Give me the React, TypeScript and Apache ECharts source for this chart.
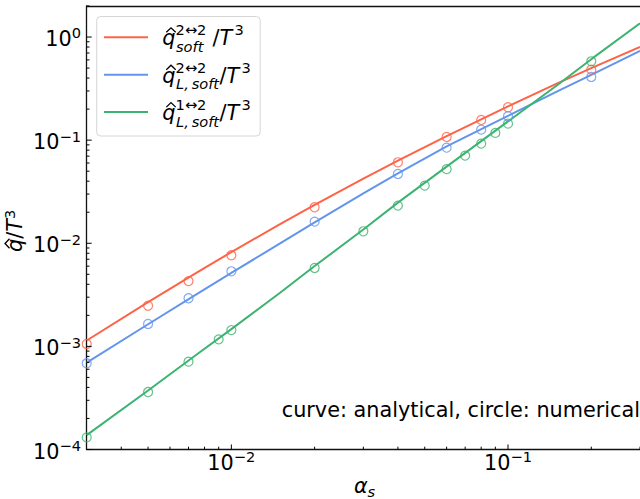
import React, { useEffect, useRef } from 'react';
import * as echarts from 'echarts';

// ---------- data ----------
const X_MIN = 0.003;
const X_MAX = 0.3;
const Y_MIN = 1e-4;
const Y_MAX = 2;

// analytical curves
const curveX = [0.003, 0.005, 0.0076, 0.01, 0.015, 0.02, 0.03, 0.04, 0.06, 0.1, 0.15, 0.2, 0.3];
const curveSoft = [0.00114, 0.002688, 0.00532, 0.00821, 0.01533, 0.02353, 0.04236, 0.0634, 0.1096, 0.2129, 0.3535, 0.4992, 0.802];
const curveLSoft = [0.000695, 0.001639, 0.003284, 0.005153, 0.00998, 0.01591, 0.03044, 0.04767, 0.08687, 0.1722, 0.2953, 0.4305, 0.735];
const curveL12 = [0.000138, 0.000373, 0.000857, 0.00147, 0.00331, 0.00601, 0.0136, 0.0248, 0.0554, 0.152, 0.339, 0.61, 1.36];

// numerical points
const numX22 = [0.003, 0.005, 0.007, 0.01, 0.02, 0.04, 0.06, 0.08, 0.1, 0.2];
const numSoft = [0.001055, 0.00248, 0.0043, 0.00765, 0.02234, 0.061, 0.1074, 0.157, 0.2085, 0.483];
const numLSoft = [0.000686, 0.00165, 0.00293, 0.00535, 0.0162, 0.047, 0.0845, 0.1264, 0.1706, 0.41];
const numX12 = [0.003, 0.005, 0.007, 0.009, 0.01, 0.02, 0.03, 0.04, 0.05, 0.06, 0.07, 0.08, 0.09, 0.1, 0.2];
const numL12 = [0.000131, 0.000361, 0.000711, 0.00117, 0.00144, 0.00576, 0.01307, 0.0232, 0.0362, 0.0523, 0.0708, 0.0925, 0.1175, 0.1446, 0.582];

// ticks
const xMajorTicks = [0.01, 0.1];
const xMajorExps = [-2, -1];
const xMinorTicks = [0.004, 0.005, 0.006, 0.007, 0.008, 0.009, 0.02, 0.03, 0.04, 0.05, 0.06, 0.07, 0.08, 0.09, 0.2, 0.3];
const yMajorTicks = [1e-4, 1e-3, 1e-2, 1e-1, 1];
const yMajorExps = [-4, -3, -2, -1, 0];
const yMinorTicks = [
  2e-4, 3e-4, 4e-4, 5e-4, 6e-4, 7e-4, 8e-4, 9e-4,
  2e-3, 3e-3, 4e-3, 5e-3, 6e-3, 7e-3, 8e-3, 9e-3,
  2e-2, 3e-2, 4e-2, 5e-2, 6e-2, 7e-2, 8e-2, 9e-2,
  2e-1, 3e-1, 4e-1, 5e-1, 6e-1, 7e-1, 8e-1, 9e-1, 2,
];

const legendSups = ['2\u21942', '2\u21942', '1\u21942'];
const legendSubs = ['soft', 'L,\u2009soft', 'L,\u2009soft'];
const annotation = 'curve: analytical, circle: numerical';

// ---------- styles ----------
const RED = '#ff6347';
const BLUE = '#6495ed';
const GREEN = '#3cb371';
const FONT = 'DejaVu Sans';
const FS = 20.8;
const SS = 14.6;
const MID = 0.346; // central-baseline offset (em) for DejaVu Sans

let measureCtx: CanvasRenderingContext2D | null = null;
function measure(text: string, size: number, italic = false): number {
  if (!measureCtx) measureCtx = document.createElement('canvas').getContext('2d');
  if (!measureCtx) return text.length * size * 0.6;
  measureCtx.font = `${italic ? 'italic ' : ''}${size}px "${FONT}"`;
  return measureCtx.measureText(text).width;
}

function expText(e: number): string {
  return e < 0 ? '\u2212' + String(-e) : String(e);
}

function txt(x: number, baseline: number, text: string, size: number, opts: any = {}) {
  return {
    type: 'text',
    x,
    y: baseline - MID * size,
    silent: true,
    style: {
      text,
      fontSize: size,
      fontFamily: FONT,
      fontStyle: opts.italic ? 'italic' : 'normal',
      fill: opts.fill || '#000',
      align: opts.align || 'left',
      verticalAlign: 'middle',
      lineHeight: opts.lineHeight || undefined,
    },
  };
}

export default function App() {
  const ref = useRef<HTMLDivElement>(null);

  useEffect(() => {
    if (!ref.current) return;
    const chart = echarts.init(ref.current, null, { renderer: 'svg' });

    const axisCommon = {
      type: 'log',
      logBase: 10,
      axisTick: { show: false },
      axisLabel: { show: false },
      splitLine: { show: false },
      minorTick: { show: false },
      minorSplitLine: { show: false },
      axisLine: { show: true, onZero: false, lineStyle: { color: '#111', width: 1.3 } },
    };

    const legendEls: any[] = [];
    legendEls.push({
      type: 'rect',
      z: 10,
      shape: { x: 96.7, y: 16.5, width: 163.5, height: 119.5, r: 4 },
      style: { fill: 'rgba(255,255,255,0.85)', stroke: '#d6d6d6', lineWidth: 1 },
    });
    const colors = [RED, BLUE, GREEN];
    const slashXs = [212.5, 219.5, 219.5];
    for (let i = 0; i < 3; i++) {
      const L = 37.3 + i * 37.4;
      legendEls.push({
        type: 'line', z: 11,
        shape: { x1: 104, y1: L, x2: 148, y2: L },
        style: { stroke: colors[i], lineWidth: 2 },
      });
      const els = [
        txt(162.3, L + 8, 'q', FS, { italic: true }),
        txt(175.6, L - 2.5, legendSups[i], SS, { lineHeight: 15 }),
        txt(176, L + 14, legendSubs[i], SS, { italic: true, lineHeight: 15 }),
        txt(slashXs[i], L + 8, '/', FS),
        txt(slashXs[i] + 7, L + 8, 'T', FS, { italic: true }),
        txt(slashXs[i] + 22, L - 2.5, '3', SS),
      ];
      els.forEach((e: any) => { e.z = 11; legendEls.push(e); });
      legendEls.push({
        type: 'polyline', z: 11,
        shape: { points: [[166.3, L - 5], [171, L - 9.5], [175.7, L - 5]] },
        style: { stroke: '#000', lineWidth: 1.3, fill: null },
      });
    }

    const yLabelGroup = {
      type: 'group',
      x: 22.5,
      y: 252,
      rotation: Math.PI / 2,
      children: [
        txt(0, 0, 'q', FS, { italic: true }),
        {
          type: 'polyline',
          shape: { points: [[3.8, -13], [8.5, -17.5], [13.2, -13]] },
          style: { stroke: '#000', lineWidth: 1.3, fill: null },
        },
        txt(13.2, 0, '/', FS),
        txt(20.2, 0, 'T', FS, { italic: true }),
        txt(33, -8.3, '3', SS),
      ],
    };

    const option: any = {
      animation: false,
      backgroundColor: '#fff',
      grid: { left: 86.7, top: 6, width: 558.4, height: 443.5, containLabel: false },
      xAxis: [
        { ...axisCommon, min: X_MIN, max: X_MAX, position: 'bottom' },
        { ...axisCommon, min: X_MIN, max: X_MAX, position: 'top' },
      ],
      yAxis: [{ ...axisCommon, min: Y_MIN, max: Y_MAX, position: 'left' }],
      series: [
        {
          type: 'line', name: 'soft', data: curveX.map((x, i) => [x, curveSoft[i]]),
          showSymbol: false, symbol: 'none', lineStyle: { color: RED, width: 2 }, z: 3,
        },
        {
          type: 'line', name: 'Lsoft', data: curveX.map((x, i) => [x, curveLSoft[i]]),
          showSymbol: false, symbol: 'none', lineStyle: { color: BLUE, width: 2 }, z: 3,
        },
        {
          type: 'line', name: 'L12', data: curveX.map((x, i) => [x, curveL12[i]]),
          showSymbol: false, symbol: 'none', lineStyle: { color: GREEN, width: 2 }, z: 3,
        },
        {
          type: 'scatter', data: numX22.map((x, i) => [x, numSoft[i]]), symbol: 'circle', symbolSize: 9,
          itemStyle: { color: 'rgba(0,0,0,0)', borderColor: RED, borderWidth: 1.2 }, z: 4,
        },
        {
          type: 'scatter', data: numX22.map((x, i) => [x, numLSoft[i]]), symbol: 'circle', symbolSize: 9,
          itemStyle: { color: 'rgba(0,0,0,0)', borderColor: BLUE, borderWidth: 1.2 }, z: 4,
        },
        {
          type: 'scatter', data: numX12.map((x, i) => [x, numL12[i]]), symbol: 'circle', symbolSize: 9,
          itemStyle: { color: 'rgba(0,0,0,0)', borderColor: GREEN, borderWidth: 1.2 }, z: 4,
        },
        // x ticks
        {
          type: 'custom', silent: true, z: 6, clip: false,
          data: [...xMajorTicks.map((v) => [v, Y_MIN, 1]), ...xMinorTicks.map((v) => [v, Y_MIN, 0])],
          encode: { x: 0, y: 1 },
          renderItem: (params: any, api: any) => {
            const p = api.coord([api.value(0), api.value(1)]);
            const len = api.value(2) ? 5 : 2.8;
            return {
              type: 'line',
              shape: { x1: p[0], y1: p[1], x2: p[0], y2: p[1] - len },
              style: { stroke: '#000', lineWidth: 1 },
            };
          },
        },
        // y ticks
        {
          type: 'custom', silent: true, z: 6, clip: false,
          data: [...yMajorTicks.map((v) => [X_MIN, v, 1]), ...yMinorTicks.map((v) => [X_MIN, v, 0])],
          encode: { x: 0, y: 1 },
          renderItem: (params: any, api: any) => {
            const p = api.coord([api.value(0), api.value(1)]);
            const len = api.value(2) ? 5 : 2.8;
            return {
              type: 'line',
              shape: { x1: p[0], y1: p[1], x2: p[0] + len, y2: p[1] },
              style: { stroke: '#000', lineWidth: 1 },
            };
          },
        },
        // x tick labels
        {
          type: 'custom', silent: true, z: 6, clip: false,
          data: xMajorTicks.map((v, i) => [v, Y_MIN, xMajorExps[i]]),
          encode: { x: 0, y: 1 },
          renderItem: (params: any, api: any) => {
            const p = api.coord([api.value(0), api.value(1)]);
            const sup = expText(api.value(2));
            const wMain = measure('10', FS);
            const wSup = measure(sup, SS);
            const left = p[0] - (wMain + wSup) / 2;
            const base = p[1] + 20.5;
            return {
              type: 'group',
              children: [txt(left, base, '10', FS), txt(left + wMain, base - 8.3, sup, SS)],
            };
          },
        },
        // y tick labels
        {
          type: 'custom', silent: true, z: 6, clip: false,
          data: yMajorTicks.map((v, i) => [X_MIN, v, yMajorExps[i]]),
          encode: { x: 0, y: 1 },
          renderItem: (params: any, api: any) => {
            const p = api.coord([api.value(0), api.value(1)]);
            const sup = expText(api.value(2));
            const wSup = measure(sup, SS);
            const right = p[0] - 5.7;
            const base = p[1] + 9.3;
            return {
              type: 'group',
              children: [
                txt(right - wSup, base, '10', FS, { align: 'right' }),
                txt(right, base - 8.3, sup, SS, { align: 'right' }),
              ],
            };
          },
        },
      ],
      graphic: [
        ...legendEls,
        txt(281.7, 416.7, annotation, FS),
        txt(354, 493, '\u03b1', FS, { italic: true }),
        txt(367.5, 496.7, 's', SS, { italic: true }),
        yLabelGroup,
      ],
    };

    chart.setOption(option);
    return () => chart.dispose();
  }, []);

  return (
    <div
      ref={ref}
      style={{ position: 'fixed', left: 0, top: 0, width: 640, height: 499, background: '#fff' }}
    />
  );
}
